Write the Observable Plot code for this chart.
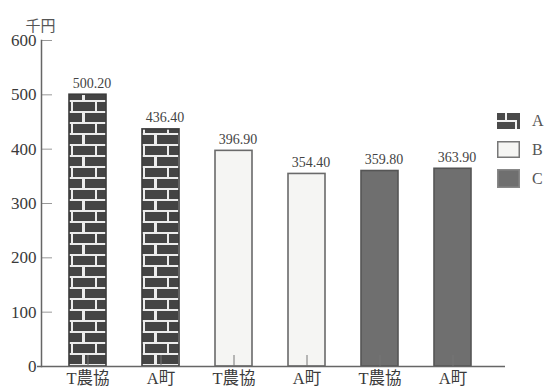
<!DOCTYPE html>
<html>
<head>
<meta charset="utf-8">
<script src="https://cdn.jsdelivr.net/npm/d3@7"></script>
<script src="https://cdn.jsdelivr.net/npm/@observablehq/plot@0.6"></script>
<style>
  html, body { margin: 0; padding: 0; background: #fff; }
  #wrap { position: relative; width: 546px; height: 390px; font-family: "Liberation Serif", "DejaVu Serif", "Noto Sans CJK JP", serif; color: #444; }
  #legend { position: absolute; left: 497px; top: 106px; }
  .item { display: flex; align-items: center; height: 29px; }
  .item svg { display: block; }
  .item span { margin-left: 12px; font-size: 16px; color: #555; }
</style>
</head>
<body>
<div id="wrap">
  <div id="legend"></div>
</div>
<script>
// Series (A: brick, B: light, C: dark), each with T農協 and A町
const groups = ["A", "B", "C"];
const places = ["T農協", "A町"];
const valuesA = [500.20, 436.40];
const valuesB = [396.90, 354.40];
const valuesC = [359.80, 363.90];
const yTicks = [0, 100, 200, 300, 400, 500, 600];
const unitLabel = "千円";

const seriesValues = {A: valuesA, B: valuesB, C: valuesC};
const rows = groups.flatMap(g => places.map((p, i) => ({
  key: `${g}-${i}`, group: g, place: p, value: seriesValues[g][i]
})));
const keys = rows.map(d => d.key);
const labelOf = new Map(rows.map(d => [d.key, d.place]));

const fills = {A: "url(#brick)", B: "#f5f5f3", C: "#6f6f6f"};
const strokes = {A: "#3c3c3c", B: "#6a6a6a", C: "#555"};

const chart = Plot.plot({
  width: 546,
  height: 390,
  marginLeft: 41,
  marginRight: 41,
  marginTop: 40,
  marginBottom: 24,
  style: {fontFamily: "'Liberation Serif', 'Noto Sans CJK JP', serif", color: "#444", background: "#fff"},
  x: {domain: keys, range: [69, 470.5], paddingInner: 0.5, paddingOuter: 0, label: null},
  y: {domain: [0, 600], ticks: yTicks, label: null},
  marks: [
    ...groups.map(g => Plot.barY(rows.filter(d => d.group === g), {
      x: "key", y: "value", fill: fills[g], stroke: strokes[g], strokeWidth: 1.6
    })),
    Plot.text(rows, {
      x: "key", y: "value", text: d => d3.format(".2f")(d.value),
      lineAnchor: "bottom", dy: -7, dx: 4, fontSize: 14, fill: "#444"
    }),
    // tick marks pointing into the plot from the left edge
    Plot.axisY({anchor: "right", frameAnchor: "left", ticks: yTicks, tickSize: 10, tickFormat: () => "", stroke: "#999", label: null}),
    Plot.axisY({ticks: yTicks, tickSize: 0, tickPadding: 5, fontSize: 17, fill: "#3a3a3a", label: null}),
    Plot.axisX({tickSize: -11, tickFormat: () => "", stroke: "#777", label: null}),
    Plot.axisX({tickSize: 0, tickPadding: 6, tickFormat: k => labelOf.get(k), fontSize: 16.5, fill: "#3a3a3a", label: null}),
    Plot.ruleY([0], {stroke: "#666", strokeWidth: 1.5, insetLeft: -4}),
    Plot.frame({anchor: "left", stroke: "#666", strokeWidth: 1.5}),
    Plot.text([unitLabel], {frameAnchor: "top-left", textAnchor: "middle", dy: -20, dx: -1, fontSize: 15, fill: "#555"})
  ]
});

// brick pattern for series A
d3.select(chart).insert("defs", ":first-child").html(`
  <pattern id="brick" patternUnits="userSpaceOnUse" width="24" height="22" x="0" y="366">
    <rect width="24" height="22" fill="#ececec"/>
    <rect x="1" y="0" width="22" height="9" fill="#444"/>
    <rect x="0" y="11" width="10" height="9" fill="#444"/>
    <rect x="13" y="11" width="11" height="9" fill="#444"/>
  </pattern>`);

document.getElementById("wrap").prepend(chart);
chart.style.position = "absolute";
chart.style.left = "0";
chart.style.top = "0";

// legend
const swatch = {
  A: `<svg width="23" height="16"><rect width="23" height="16" fill="#4a4a4a"/>
       <rect x="0" y="7" width="20" height="2" fill="#f2f2f2"/>
       <rect x="8" y="0" width="2" height="8" fill="#f2f2f2"/>
       <rect x="18" y="7" width="2" height="9" fill="#f2f2f2"/></svg>`,
  B: `<svg width="23" height="17"><rect x="0.75" y="0.75" width="21.5" height="15.5" fill="#f5f5f3" stroke="#777" stroke-width="1.5"/></svg>`,
  C: `<svg width="23" height="19"><rect x="0.75" y="0.75" width="21.5" height="17.5" fill="#6f6f6f" stroke="#888" stroke-width="1.5"/></svg>`
};
const legend = d3.select("#legend");
groups.forEach(g => {
  const item = legend.append("div").attr("class", "item");
  item.html(swatch[g] + `<span>${g}</span>`);
});
</script>
</body>
</html>
